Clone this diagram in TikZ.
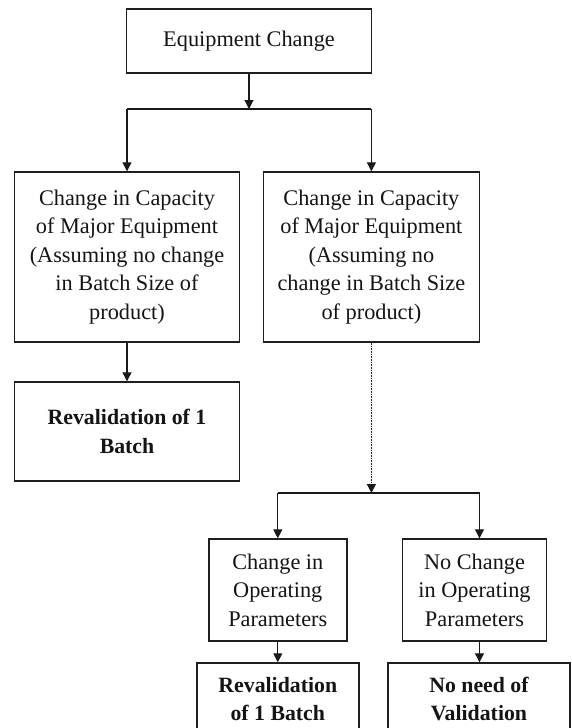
\documentclass[tikz,border=0pt]{standalone}
\usepackage{fontspec}
\setmainfont{Liberation Serif}
\usetikzlibrary{arrows.meta}
\tikzset{
  box/.style={draw=black!88, line width=1.4pt, align=center, inner sep=0pt, text=black!92,
    font=\fontsize{22.3}{28.6}\selectfont},
  boldbox/.style={box, font=\bfseries\fontsize{21.8}{28.3}\selectfont},
  conn/.style={draw=black!90, line width=1.1pt},
  arr/.style={conn, -{Triangle[width=9pt,length=9pt]}},
}
\begin{document}
\begin{tikzpicture}[x=1pt,y=-1pt]
\useasboundingbox (0,0) rectangle (571,728);
\clip (0,0) rectangle (571,728);
\node[box, minimum width=245, minimum height=64] (top) at (249,41) {Equipment Change};
\node[box, minimum width=224.7, minimum height=170] (left) at (127,257)
  {Change in Capacity\\of Major Equipment\\(Assuming no change\\in Batch Size of\\product)};
\node[box, minimum width=216, minimum height=170] (right) at (371.4,257)
  {Change in Capacity\\of Major Equipment\\(Assuming no\\change in Batch Size\\of product)};
\node[boldbox, minimum width=224.7, minimum height=99] (left2) at (127,431.5)
  {Revalidation of 1\\Batch};
\node[box, minimum width=138, minimum height=102] (A) at (277.8,590)
  {Change in\\Operating\\Parameters};
\node[box, minimum width=144, minimum height=102] (B) at (474.5,590)
  {No Change\\in Operating\\Parameters};
\node[boldbox, minimum width=162, minimum height=72] (C) at (277.8,699)
  {Revalidation\\of 1 Batch};
\node[boldbox, minimum width=182, minimum height=72] (D) at (479,699)
  {No need of\\Validation};
\coordinate (j1) at (249,109);
\coordinate (j2) at (371.4,493);
\coordinate (bj) at (479.5,493);
\draw[arr] (top.south) -- (j1);
\draw[conn] (left.north |- j1) -- (right.north |- j1);
\draw[arr] (left.north |- j1) -- (left.north);
\draw[arr] (right.north |- j1) -- (right.north);
\draw[arr] (left.south) -- (left2.north);
\draw[arr, line width=1.4pt, dash pattern=on 1pt off 0.6pt] (right.south) -- (j2);
\draw[conn] (A.north |- j2) -- (bj);
\draw[arr] (A.north |- j2) -- (A.north);
\draw[arr] (bj) -- (bj |- B.north);
\draw[arr] (A.south) -- (C.north);
\draw[arr] (bj |- B.south) -- (bj |- D.north);
\end{tikzpicture}
\end{document}
